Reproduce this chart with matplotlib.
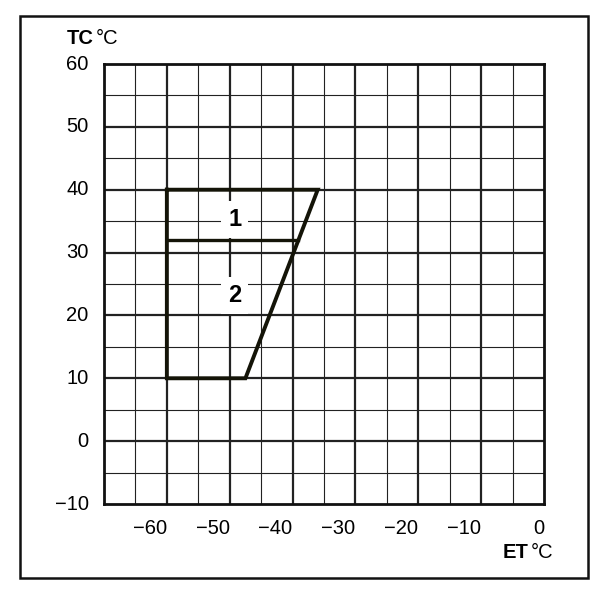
import numpy as np
import matplotlib
matplotlib.use('Agg')
import matplotlib.pyplot as plt
from matplotlib.patches import Rectangle

plt.rcParams['font.family'] = ['Liberation Sans', 'DejaVu Sans']
base_fontsize = 14.5

# 运行范围（ET 蒸发温度, TC 冷凝温度）
env_et = [-60, -36, -47.5, -60, -60]
env_tc = [40, 40, 10, 10, 40]
split_et = [-60, -39.2]
split_tc = [32, 32]

zone_labels = ['1', '2']
zone_et = [-49.2, -49.2]
zone_tc = [35.3, 23.2]

x_ticks = [-60, -50, -40, -30, -20, -10, 0]
y_ticks = [-10, 0, 10, 20, 30, 40, 50, 60]

fig = plt.figure(figsize=(6.14, 6.0), dpi=100)
ax = fig.add_axes([104/614, 1-504/600, 440/614, 440/600])
ax.set_xlim(-70, 0)
ax.set_ylim(-10, 60)

# 网格
for v in np.arange(-65, 0, 5):
    lw = 1.6 if v % 10 == 0 else 0.8
    ax.axvline(v, color='#222222', linewidth=lw, zorder=1)
for v in np.arange(-5, 60, 5):
    lw = 1.6 if v % 10 == 0 else 0.8
    ax.axhline(v, color='#222222', linewidth=lw, zorder=1)

# 包络线
ax.plot(env_et, env_tc, color='#141408', linewidth=2.8, solid_joinstyle='miter', zorder=3)
ax.plot(split_et, split_tc, color='#141408', linewidth=2.4, zorder=3)

for lab, xe, yt in zip(zone_labels, zone_et, zone_tc):
    ax.text(xe, yt, lab, fontsize=17, fontweight='bold', ha='center', va='center',
            zorder=4, bbox=dict(facecolor='white', edgecolor='none', pad=5))

for s in ax.spines.values():
    s.set_linewidth(2.0)
    s.set_color('#111111')

ax.set_xticks(x_ticks)
ax.set_yticks(y_ticks)
ax.set_xticklabels(['\u2212%d' % -t if t < 0 else '%d' % t for t in x_ticks], ha='right')
ax.set_yticklabels(['\u2212%d' % -t if t < 0 else '%d' % t for t in y_ticks], va='center')
ax.tick_params(axis='both', length=0, labelsize=base_fontsize)
ax.tick_params(axis='x', pad=11)
ax.tick_params(axis='y', pad=11)

# 轴标题
fig.text(67/614, 1-39/600, 'TC', fontsize=base_fontsize, fontweight='bold', va='center', ha='left')
fig.text(96/614, 1-39/600, '°C', fontsize=base_fontsize, va='center', ha='left')
fig.text(503/614, 1-552/600, 'ET', fontsize=base_fontsize, fontweight='bold', va='center', ha='left')
fig.text(531/614, 1-552/600, '°C', fontsize=base_fontsize, va='center', ha='left')

# 外框
fig.patches.append(Rectangle((20/614, 1-578/600), 568/614, 562/600, transform=fig.transFigure,
                             fill=False, edgecolor='#111111', linewidth=1.8))

plt.savefig('out.png', dpi=100)
